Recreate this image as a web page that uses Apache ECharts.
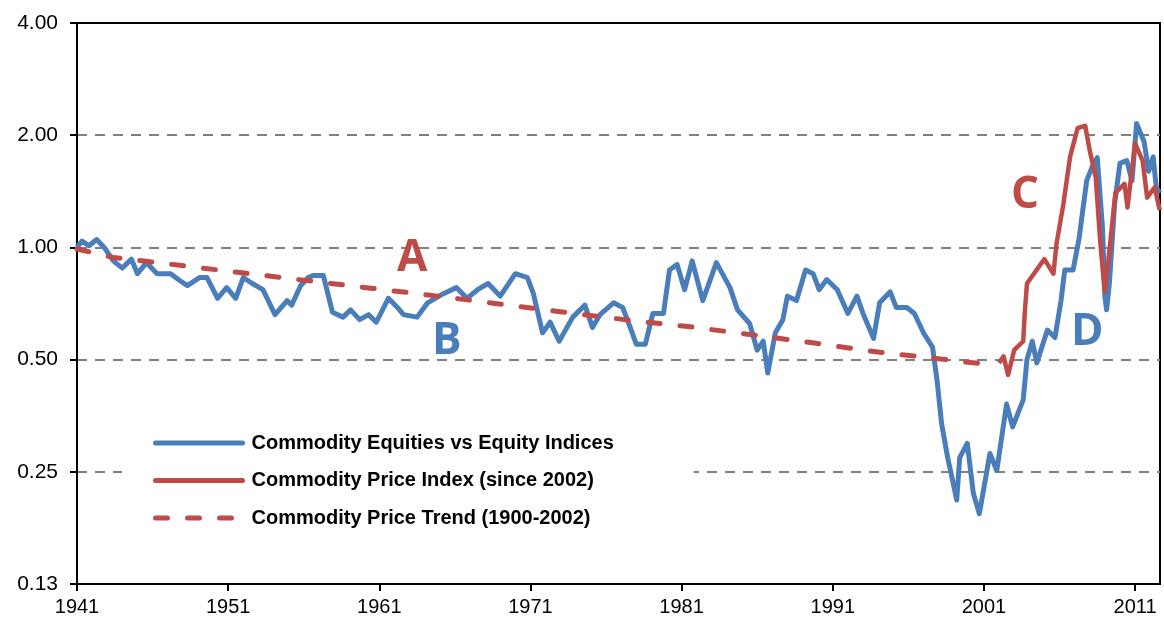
<!DOCTYPE html>
<html>
<head>
<meta charset="utf-8">
<script src="https://cdn.jsdelivr.net/npm/echarts@6/dist/echarts.min.js"></script>
<style>
  html, body { margin: 0; padding: 0; background: #fff; }
  #chart { width: 1164px; height: 619px; }
</style>
</head>
<body>
<div id="chart"></div>
<script>
// commodity equities relative to equity indices (blue)
var equityYears = [1941.0, 1941.33, 1941.8, 1942.3, 1942.8, 1943.4, 1944.0, 1944.6, 1945.0, 1945.6,
    1946.3, 1947.2, 1947.7, 1948.3, 1949.1, 1949.6, 1950.3, 1950.9, 1951.5, 1952.0,
    1952.6, 1953.3, 1954.1, 1954.9, 1955.2, 1955.8, 1956.3, 1956.6, 1957.3, 1957.9,
    1958.6, 1959.1, 1959.7, 1960.3, 1960.8, 1961.6, 1962.2, 1962.6, 1963.5, 1964.2,
    1965.2, 1966.1, 1966.8, 1967.5, 1968.2, 1969.0, 1970.0, 1970.8, 1971.2, 1971.8,
    1972.3, 1972.9, 1973.8, 1974.6, 1975.1, 1975.6, 1976.5, 1977.1, 1977.6, 1978.0,
    1978.6, 1979.1, 1979.8, 1980.2, 1980.7, 1981.2, 1981.7, 1982.4, 1983.3, 1984.2,
    1984.7, 1985.5, 1986.0, 1986.4, 1986.7, 1987.2, 1987.7, 1988.0, 1988.6, 1989.2,
    1989.7, 1990.1, 1990.6, 1991.3, 1992.0, 1992.6, 1993.0, 1993.7, 1994.1, 1994.8,
    1995.2, 1995.9, 1996.4, 1997.0, 1997.6, 1997.9, 1998.2, 1998.6, 1998.9, 1999.2,
    1999.4, 1999.9, 2000.3, 2000.7, 2001.4, 2001.85, 2002.5, 2002.9, 2003.6, 2003.85,
    2004.2, 2004.5, 2005.2, 2005.7, 2006.1, 2006.35, 2006.9, 2007.3, 2007.8, 2008.2,
    2008.5, 2008.85, 2009.0, 2009.12, 2009.3, 2009.65, 2010.0, 2010.45, 2010.8, 2011.1,
    2011.6, 2011.9, 2012.2, 2012.4, 2012.63];
var equityValues = [1.00, 1.04, 1.01, 1.05, 1.00, 0.92, 0.88, 0.93, 0.85, 0.91,
    0.85, 0.85, 0.82, 0.79, 0.83, 0.83, 0.73, 0.78, 0.73, 0.83,
    0.80, 0.77, 0.66, 0.72, 0.70, 0.79, 0.83, 0.84, 0.84, 0.67,
    0.65, 0.68, 0.64, 0.66, 0.63, 0.73, 0.69, 0.66, 0.65, 0.71,
    0.75, 0.78, 0.73, 0.77, 0.80, 0.74, 0.85, 0.83, 0.75, 0.59,
    0.63, 0.56, 0.65, 0.70, 0.61, 0.66, 0.71, 0.69, 0.61, 0.55,
    0.55, 0.665, 0.665, 0.87, 0.90, 0.77, 0.92, 0.72, 0.91, 0.78,
    0.68, 0.625, 0.53, 0.56, 0.46, 0.59, 0.64, 0.74, 0.72, 0.87,
    0.85, 0.77, 0.82, 0.77, 0.665, 0.74, 0.665, 0.57, 0.71, 0.76,
    0.69, 0.69, 0.665, 0.59, 0.54, 0.44, 0.337, 0.273, 0.24, 0.21,
    0.273, 0.298, 0.219, 0.193, 0.28, 0.252, 0.38, 0.33, 0.39, 0.50,
    0.56, 0.49, 0.60, 0.573, 0.72, 0.87, 0.87, 1.06, 1.51, 1.66,
    1.74, 1.12, 0.74, 0.68, 0.80, 1.31, 1.68, 1.71, 1.51, 2.15,
    1.92, 1.60, 1.75, 1.45, 1.40];

// commodity price index since 2002 (red solid)
var indexYears = [2002.0, 2002.3, 2002.6, 2003.0, 2003.6, 2003.7, 2003.85, 2004.4, 2005.0, 2005.6,
    2005.8, 2006.25, 2006.7, 2007.2, 2007.7, 2008.0, 2008.4, 2008.7, 2008.99, 2009.3,
    2009.7, 2010.3, 2010.5, 2011.0, 2011.5, 2011.8, 2012.3, 2012.63];
var indexValues = [0.49, 0.51, 0.455, 0.53, 0.56, 0.665, 0.80, 0.86, 0.93, 0.85,
    1.02, 1.30, 1.75, 2.09, 2.12, 1.82, 1.54, 1.03, 0.76, 0.98,
    1.40, 1.48, 1.28, 1.90, 1.71, 1.36, 1.45, 1.26];

// commodity price trend 1900-2002 (red dashed)
var trendYears = [1941.0, 1943.4, 1947.8, 1952.2, 1956.6, 1960.6, 1965.0, 1969.2, 1972.7, 1977.1,
    1981.3, 1985.5, 1989.9, 1994.1, 1998.3, 2000.7, 2001.7];
var trendValues = [0.99, 0.94, 0.895, 0.852, 0.811, 0.776, 0.739, 0.703, 0.674, 0.641,
    0.614, 0.584, 0.553, 0.523, 0.501, 0.488, 0.486];

var xTicks = [1941, 1951, 1961, 1971, 1981, 1991, 2001, 2011];

var seriesNames = ['Commodity Equities vs Equity Indices',
    'Commodity Price Index (since 2002)',
    'Commodity Price Trend (1900-2002)'];

function pairs(xs, ys) {
    var out = [];
    for (var i = 0; i < xs.length; i++) out.push([xs[i], ys[i]]);
    return out;
}

var blue = '#4A7EBB';
var red = '#BE4B48';
var font = 'Liberation Sans, Arial, sans-serif';
var letterFont = 'bold 44px "Open Sans", sans-serif';

var myChart = echarts.init(document.getElementById('chart'));
var option = {
    animation: false,
    backgroundColor: '#fff',
    grid: {
        left: 77, top: 23, right: 4, bottom: 35,
        show: true, borderColor: '#000', borderWidth: 2, backgroundColor: 'transparent'
    },
    xAxis: {
        type: 'value',
        min: 1941,
        max: 2012.65,
        axisLine: { lineStyle: { color: '#000', width: 2 } },
        axisTick: { show: true, length: 7, lineStyle: { color: '#000', width: 2 }, customValues: xTicks },
        axisLabel: {
            customValues: xTicks, margin: 13, color: '#000', fontSize: 20, fontFamily: font,
            formatter: function (v) { return String(v); }
        },
        splitLine: { show: false }
    },
    yAxis: {
        type: 'log',
        logBase: 2,
        min: 0.125,
        max: 4,
        axisLine: { show: true, lineStyle: { color: '#000', width: 2 } },
        axisTick: { show: true, length: 7, lineStyle: { color: '#000', width: 2 } },
        axisLabel: {
            color: '#000', fontSize: 21, fontFamily: font, margin: 19,
            formatter: function (v) { return v.toFixed(2); }
        },
        splitLine: {
            show: true, showMinLine: false, showMaxLine: false,
            lineStyle: { color: '#808080', width: 2, type: [10, 8] }
        }
    },
    legend: {
        orient: 'vertical',
        left: 122,
        top: 421,
        backgroundColor: '#fff',
        padding: [12, 80, 12, 31],
        itemWidth: 87,
        itemHeight: 20,
        itemGap: 17.5,
        lineStyle: { width: 5, cap: 'round' },
        itemStyle: { opacity: 0 },
        textStyle: { fontSize: 20, fontWeight: 'bold', color: '#000', fontFamily: font, padding: [0, 0, 0, 4] },
        data: seriesNames
    },
    series: [
        {
            name: seriesNames[0], type: 'line', symbol: 'none', z: 3,
            lineStyle: { color: blue, width: 5, join: 'round' },
            itemStyle: { color: blue },
            data: pairs(equityYears, equityValues)
        },
        {
            name: seriesNames[1], type: 'line', symbol: 'none', z: 4,
            lineStyle: { color: red, width: 4.5, join: 'round' },
            itemStyle: { color: red },
            data: pairs(indexYears, indexValues)
        },
        {
            name: seriesNames[2], type: 'line', symbol: 'none', z: 4,
            lineStyle: { color: red, width: 5, type: [12, 20], cap: 'round' },
            itemStyle: { color: red },
            data: pairs(trendYears, trendValues)
        }
    ],
    graphic: [
        { type: 'text', left: 397, top: 236, z: 10, style: { text: 'A', fill: red, font: letterFont } },
        { type: 'text', left: 432, top: 319, z: 10, style: { text: 'B', fill: blue, font: letterFont } },
        { type: 'text', left: 1011, top: 173, z: 10, style: { text: 'C', fill: red, font: letterFont } },
        { type: 'text', left: 1071, top: 310, z: 10, style: { text: 'D', fill: blue, font: letterFont } }
    ]
};
myChart.setOption(option);
</script>
</body>
</html>
